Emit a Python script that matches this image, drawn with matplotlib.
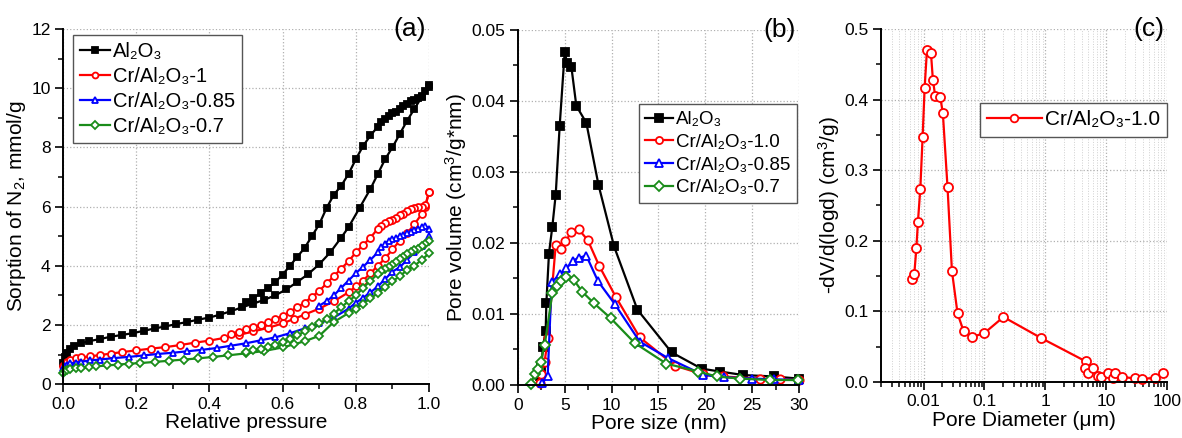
import matplotlib
matplotlib.use("Agg")
import matplotlib.pyplot as plt
from matplotlib.ticker import MultipleLocator, FixedLocator, FuncFormatter, LogLocator, NullFormatter

plt.rcParams['font.family'] = ['Liberation Sans', 'DejaVu Sans']
plt.rcParams['mathtext.fontset'] = 'custom'
plt.rcParams['mathtext.rm'] = 'Liberation Sans'
plt.rcParams['mathtext.it'] = 'Liberation Sans'

# ---------------- Panel (a): N2 sorption isotherms ----------------
al_ads_x = [0.0,0.005,0.01,0.02,0.03,0.05,0.07,0.1,0.13,0.16,0.19,0.22,0.25,0.28,0.31,0.34,0.37,0.4,0.43,0.46,0.49,0.52,0.55,0.58,0.61,0.64,0.67,0.7,0.73,0.76,0.78,0.81,0.84,0.86,0.88,0.9,0.92,0.94,0.96,0.98,1.0]
al_ads_y = [0.7,0.9,1.05,1.2,1.28,1.38,1.45,1.52,1.6,1.66,1.72,1.8,1.88,1.95,2.03,2.1,2.18,2.25,2.35,2.47,2.6,2.72,2.85,3.0,3.2,3.45,3.72,4.05,4.45,4.95,5.3,5.95,6.6,7.1,7.6,8.0,8.45,8.9,9.3,9.7,10.05]
al_des_x = [1.0,0.99,0.98,0.97,0.96,0.95,0.94,0.93,0.92,0.91,0.9,0.89,0.88,0.87,0.86,0.84,0.82,0.8,0.78,0.76,0.74,0.72,0.7,0.68,0.66,0.64,0.62,0.6,0.58,0.56,0.54,0.52,0.5]
al_des_y = [10.1,9.9,9.75,9.65,9.6,9.55,9.45,9.38,9.3,9.2,9.15,9.05,8.95,8.85,8.7,8.4,8.05,7.6,7.1,6.7,6.4,5.95,5.4,5.0,4.6,4.3,4.0,3.7,3.45,3.25,3.08,2.9,2.78]

cr1_ads_x = [0.0,0.005,0.01,0.02,0.035,0.05,0.075,0.1,0.13,0.16,0.2,0.24,0.28,0.32,0.36,0.4,0.44,0.48,0.52,0.56,0.6,0.63,0.66,0.7,0.74,0.78,0.8,0.82,0.84,0.86,0.88,0.9,0.92,0.94,0.96,0.98,0.99,1.0]
cr1_ads_y = [0.6,0.68,0.75,0.82,0.87,0.9,0.94,0.98,1.03,1.08,1.14,1.2,1.25,1.32,1.4,1.47,1.56,1.66,1.78,1.9,2.05,2.2,2.35,2.55,2.8,3.1,3.3,3.5,3.75,4.0,4.25,4.55,4.85,5.1,5.4,5.75,6.0,6.5]
cr1_des_x = [1.0,0.99,0.98,0.97,0.96,0.95,0.94,0.93,0.92,0.91,0.9,0.89,0.88,0.87,0.86,0.84,0.82,0.8,0.78,0.76,0.74,0.72,0.7,0.68,0.66,0.64,0.62,0.6,0.58,0.56,0.54,0.52,0.5,0.48,0.46]
cr1_des_y = [6.5,6.05,6.0,6.0,5.95,5.9,5.85,5.75,5.7,5.62,5.55,5.5,5.45,5.35,5.25,4.95,4.7,4.45,4.15,3.9,3.65,3.4,3.15,2.95,2.75,2.6,2.45,2.3,2.2,2.1,2.0,1.93,1.85,1.77,1.7]

cr85_ads_x = [0.0,0.005,0.01,0.02,0.035,0.05,0.075,0.1,0.14,0.18,0.22,0.26,0.3,0.34,0.38,0.42,0.46,0.5,0.54,0.58,0.62,0.66,0.7,0.74,0.78,0.8,0.82,0.84,0.86,0.88,0.9,0.92,0.94,0.96,0.98,1.0]
cr85_ads_y = [0.55,0.6,0.65,0.7,0.73,0.76,0.8,0.83,0.88,0.92,0.97,1.02,1.06,1.11,1.16,1.22,1.3,1.38,1.48,1.58,1.72,1.88,2.05,2.25,2.55,2.75,2.92,3.1,3.3,3.55,3.8,3.95,4.2,4.45,4.68,5.0]
cr85_des_x = [1.0,0.99,0.98,0.97,0.96,0.95,0.94,0.93,0.92,0.91,0.9,0.89,0.88,0.87,0.86,0.84,0.82,0.8,0.78,0.76,0.74,0.72,0.7]
cr85_des_y = [5.25,5.35,5.3,5.25,5.2,5.15,5.1,5.05,5.0,4.95,4.9,4.85,4.75,4.62,4.45,4.2,3.97,3.75,3.5,3.25,3.0,2.8,2.65]

cr7_ads_x = [0.0,0.005,0.01,0.02,0.035,0.05,0.07,0.09,0.12,0.15,0.18,0.21,0.25,0.29,0.33,0.37,0.41,0.45,0.5,0.55,0.6,0.63,0.66,0.7,0.74,0.78,0.8,0.82,0.84,0.86,0.88,0.9,0.92,0.94,0.96,0.98,1.0]
cr7_ads_y = [0.37,0.45,0.48,0.5,0.53,0.55,0.58,0.6,0.63,0.66,0.69,0.71,0.75,0.79,0.83,0.87,0.92,0.97,1.04,1.12,1.24,1.34,1.45,1.63,2.1,2.4,2.55,2.72,2.9,3.07,3.27,3.47,3.65,3.85,4.0,4.2,4.42]
cr7_des_x = [1.0,0.99,0.98,0.97,0.96,0.95,0.94,0.93,0.92,0.91,0.9,0.89,0.88,0.87,0.86,0.84,0.82,0.8,0.78,0.76,0.74,0.72,0.7,0.68,0.66,0.64,0.62,0.6,0.58,0.56,0.54,0.52,0.5]
cr7_des_y = [4.82,4.72,4.65,4.58,4.52,4.45,4.38,4.3,4.22,4.12,4.02,3.95,3.9,3.82,3.72,3.5,3.25,3.0,2.8,2.6,2.38,2.2,2.05,1.92,1.78,1.65,1.52,1.42,1.33,1.27,1.2,1.15,1.1]

# ---------------- Panel (b): pore size distribution ----------------
b_al_x = [2.3,2.5,2.67,2.96,3.03,3.31,3.67,4.03,4.45,4.99,5.24,5.7,6.23,7.3,8.59,10.26,12.75,16.39,19.6,21.55,24.05,27.3,30.0]
b_al_y = [0.0012,0.0026,0.0054,0.0076,0.0115,0.0185,0.0223,0.0268,0.0364,0.0469,0.0453,0.0448,0.0393,0.0369,0.0282,0.0195,0.0106,0.0046,0.0023,0.0019,0.0014,0.0012,0.0009]
b_cr1_x = [2.3,2.5,2.85,3.2,4.03,4.56,5.06,5.7,6.48,7.45,8.66,10.44,13.0,16.78,19.77,21.9,25.8,28.0,30.0]
b_cr1_y = [0.0003,0.0016,0.0033,0.0066,0.0197,0.0192,0.0202,0.0215,0.0219,0.0204,0.0168,0.0124,0.0067,0.0027,0.0015,0.0012,0.0009,0.0008,0.0007]
b_cr85_x = [2.6,3.17,3.6,4.52,5.17,5.88,6.48,7.3,8.55,10.33,13.0,16.0,19.8,22.0,25.0,27.3,30.0]
b_cr85_y = [0.0003,0.0012,0.0145,0.0156,0.0164,0.0175,0.0179,0.0182,0.0146,0.0114,0.0061,0.0038,0.0014,0.0011,0.0009,0.0008,0.0007]
b_cr7_x = [1.42,1.78,2.14,2.42,2.85,3.67,4.17,4.63,5.17,5.95,6.88,8.12,9.9,12.47,15.85,19.24,21.2,23.7,26.9,29.85]
b_cr7_y = [0.0002,0.0016,0.0023,0.0033,0.0056,0.0129,0.0139,0.0146,0.0152,0.0148,0.0131,0.0115,0.0094,0.0059,0.0030,0.0019,0.0012,0.0009,0.0007,0.0007]

# ---------------- Panel (c): mercury porosimetry ----------------
c_x = [0.00645,0.00703,0.0076,0.00807,0.00882,0.00963,0.0104,0.01135,0.0132,0.0142,0.0155,0.0187,0.0207,0.0247,0.0292,0.0361,0.0453,0.0635,0.0989,0.205,0.859,4.64,4.47,5.07,6.12,7.21,8.3,10.8,13.0,13.9,18.5,29.5,38.0,62.8,86.0]
c_y = [0.146,0.153,0.189,0.227,0.273,0.347,0.417,0.470,0.466,0.428,0.405,0.404,0.381,0.276,0.157,0.097,0.072,0.064,0.069,0.092,0.062,0.029,0.020,0.013,0.020,0.009,0.007,0.013,0.005,0.012,0.007,0.005,0.004,0.006,0.013]

labels_a = ['Al₂O₃', 'Cr/Al₂O₃-1', 'Cr/Al₂O₃-0.85', 'Cr/Al₂O₃-0.7']
labels_b = ['Al₂O₃', 'Cr/Al₂O₃-1.0', 'Cr/Al₂O₃-0.85', 'Cr/Al₂O₃-0.7']
label_c = 'Cr/Al₂O₃-1.0'

BLACK = 'black'
RED = '#ff0000'
BLUE = '#0000ff'
GREEN = '#1a8c1a'

fig = plt.figure(figsize=(11.82, 4.38), dpi=100)
ax_a = fig.add_axes([0.0533, 0.123, 0.3097, 0.811])
ax_b = fig.add_axes([0.4382, 0.121, 0.2378, 0.811])
ax_c = fig.add_axes([0.7454, 0.128, 0.2420, 0.806])

LW = 1.6
MEW = 1.3
TICK_FS = 12.5
LABEL_FS = 15
PANEL_FS = 19

def style(ax):
    for s in ['top', 'right']:
        ax.spines[s].set_visible(False)
    for s in ['left', 'bottom']:
        ax.spines[s].set_linewidth(1.4)
    ax.tick_params(which='major', direction='out', length=6, width=1.2, labelsize=TICK_FS, pad=3)
    ax.tick_params(which='minor', direction='out', length=3.5, width=1.1)
    ax.grid(True, which='major', color='#b0b0b0', linestyle=':', linewidth=0.9)
    ax.set_axisbelow(True)

def series(ax, xs, ys, color, marker, filled, ms, label=None):
    ax.plot(xs, ys, color=color, lw=LW, marker=marker, ms=ms, mew=MEW,
            mfc=color if filled else 'white', mec=color, label=label, clip_on=False)

def legend(ax, anchor, loc, hl, fs, ls=0.25):
    ax.legend(loc=loc, bbox_to_anchor=anchor, borderaxespad=0, fontsize=fs, frameon=True,
              fancybox=False, edgecolor='#555555', framealpha=1, handlelength=hl,
              handletextpad=0.15, borderpad=0.35, labelspacing=ls, markerscale=0.85)

# Panel a
series(ax_a, al_ads_x, al_ads_y, BLACK, 's', True, 5, labels_a[0])
series(ax_a, al_des_x, al_des_y, BLACK, 's', True, 5)
series(ax_a, cr1_ads_x, cr1_ads_y, RED, 'o', False, 5, labels_a[1])
series(ax_a, cr1_des_x, cr1_des_y, RED, 'o', False, 5)
series(ax_a, cr85_ads_x, cr85_ads_y, BLUE, '^', False, 5, labels_a[2])
series(ax_a, cr85_des_x, cr85_des_y, BLUE, '^', False, 5)
series(ax_a, cr7_ads_x, cr7_ads_y, GREEN, 'D', False, 4.5, labels_a[3])
series(ax_a, cr7_des_x, cr7_des_y, GREEN, 'D', False, 4.5)
ax_a.set_xlim(0, 1.0)
ax_a.set_ylim(0, 12)
ax_a.xaxis.set_major_locator(MultipleLocator(0.2))
ax_a.xaxis.set_minor_locator(MultipleLocator(0.1))
ax_a.yaxis.set_major_locator(MultipleLocator(2))
ax_a.yaxis.set_minor_locator(MultipleLocator(1))
ax_a.xaxis.set_major_formatter(FuncFormatter(lambda v, p: f'{v:.1f}'))
style(ax_a)
ax_a.set_xlabel('Relative pressure', fontsize=LABEL_FS, labelpad=1)
ax_a.set_ylabel('Sorption of N$_2$, mmol/g', fontsize=LABEL_FS, labelpad=2)
ax_a.text(0.99, 1.0, '(a)', transform=ax_a.transAxes, ha='right', va='center', fontsize=PANEL_FS)
legend(ax_a, (0.027, 0.983), 'upper left', 1.5, 14.5, ls=0.3)

# Panel b
series(ax_b, b_al_x, b_al_y, BLACK, 's', True, 6, labels_b[0])
series(ax_b, b_cr1_x, b_cr1_y, RED, 'o', False, 6, labels_b[1])
series(ax_b, b_cr85_x, b_cr85_y, BLUE, '^', False, 6, labels_b[2])
series(ax_b, b_cr7_x, b_cr7_y, GREEN, 'D', False, 5.5, labels_b[3])
ax_b.set_xlim(0, 30)
ax_b.set_ylim(0, 0.05)
ax_b.xaxis.set_major_locator(MultipleLocator(5))
ax_b.xaxis.set_minor_locator(MultipleLocator(2.5))
ax_b.yaxis.set_major_locator(MultipleLocator(0.01))
ax_b.yaxis.set_minor_locator(MultipleLocator(0.005))
ax_b.yaxis.set_major_formatter(FuncFormatter(lambda v, p: f'{v:.2f}'))
style(ax_b)
ax_b.set_xlabel('Pore size (nm)', fontsize=LABEL_FS, labelpad=1)
ax_b.set_ylabel('Pore volume (cm$^3$/g*nm)', fontsize=LABEL_FS, labelpad=2)
ax_b.text(0.99, 1.0, '(b)', transform=ax_b.transAxes, ha='right', va='center', fontsize=PANEL_FS)
legend(ax_b, (0.993, 0.79), 'upper right', 1.5, 13.5, ls=0.3)

# Panel c
series(ax_c, c_x, c_y, RED, 'o', False, 6.5, label_c)
ax_c.set_xscale('log')
ax_c.set_xlim(0.002, 100)
ax_c.set_ylim(0, 0.5)
ax_c.xaxis.set_major_locator(FixedLocator([0.01, 0.1, 1, 10, 100]))
ax_c.xaxis.set_minor_locator(LogLocator(base=10, subs=range(2, 10), numticks=20))
ax_c.xaxis.set_minor_formatter(NullFormatter())
ax_c.xaxis.set_major_formatter(FuncFormatter(lambda v, p: f'{v:g}'))
ax_c.yaxis.set_major_locator(MultipleLocator(0.1))
ax_c.yaxis.set_minor_locator(MultipleLocator(0.05))
ax_c.yaxis.set_major_formatter(FuncFormatter(lambda v, p: f'{v:.1f}'))
style(ax_c)
ax_c.grid(True, which='minor', axis='x', color='#d0d0d0', linestyle=':', linewidth=0.7)
ax_c.set_xlabel('Pore Diameter (μm)', fontsize=LABEL_FS, labelpad=1)
ax_c.set_ylabel('-dV/d(logd) (cm$^3$/g)', fontsize=LABEL_FS, labelpad=2)
ax_c.text(0.99, 1.0, '(c)', transform=ax_c.transAxes, ha='right', va='center', fontsize=PANEL_FS)
legend(ax_c, (1.0, 0.79), 'upper right', 2.6, 15)

fig.savefig('out.png', dpi=100)
